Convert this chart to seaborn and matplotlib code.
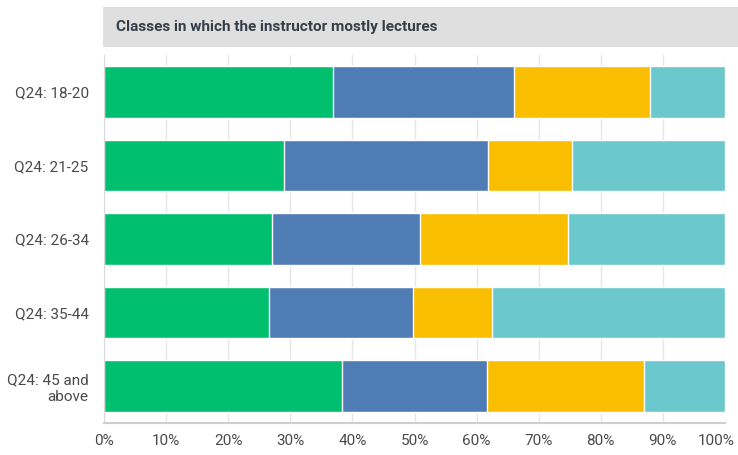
import numpy as np
import pandas as pd
import matplotlib.pyplot as plt
import matplotlib.transforms as mtransforms
import seaborn as sns
from matplotlib.patches import Rectangle

categories = ["Q24: 18-20", "Q24: 21-25", "Q24: 26-34", "Q24: 35-44", "Q24: 45 and\nabove"]
seg1 = [36.9, 29.0, 27.1, 26.5, 38.4]
seg2 = [29.1, 32.9, 23.8, 23.2, 23.2]
seg3 = [21.9, 13.5, 23.8, 12.8, 25.3]
seg4 = [12.1, 24.6, 25.3, 37.5, 13.1]
colors = ["#00bf6f", "#507cb6", "#f9be00", "#6bc8cd"]
title = "Classes in which the instructor mostly lectures"
xticks = [0, 10, 20, 30, 40, 50, 60, 70, 80, 90, 100]

sns.set_style("white")
plt.rcParams['font.family'] = ['Roboto', 'DejaVu Sans']

fig = plt.figure(figsize=(7.38, 4.55), dpi=100)
ax = fig.add_axes([104 / 738, 0.0709, (725 - 104) / 738, 0.8077])

df = pd.DataFrame({"cat": categories, "s1": seg1, "s2": seg2, "s3": seg3, "s4": seg4})
cums = np.cumsum(df[["s1", "s2", "s3", "s4"]].values, axis=1)

# draw cumulative totals back to front so they look stacked
for i in range(3, -1, -1):
    sns.barplot(x=cums[:, i], y=df["cat"], order=categories, color=colors[i],
                width=0.7, saturation=1, ax=ax, orient="h", zorder=2)

ax.set_xlim(0, 100)
ax.set_ylim(4.5, -0.5)
ax.set_xticks(xticks)
ax.set_xticklabels([f"{t}%" for t in xticks])
ax.set_xlabel("")
ax.set_ylabel("")
ax.xaxis.grid(True, color="#e6e6e6", linewidth=1, zorder=0)
ax.set_axisbelow(True)
ax.tick_params(axis="both", length=0, labelsize=11, colors="#4a4a4a")
ax.tick_params(axis="x", pad=8)
ax.tick_params(axis="y", pad=11)
for lbl in ax.get_yticklabels():
    lbl.set_horizontalalignment("right")
# pull the last x label in so it stays inside the figure
last = ax.get_xticklabels()[-1]
last.set_horizontalalignment("right")
last.set_transform(last.get_transform() + mtransforms.ScaledTranslation(10 / 100, 0, fig.dpi_scale_trans))
for s in ["top", "right"]:
    ax.spines[s].set_visible(False)
ax.spines["left"].set_color("#d9d9d9")
ax.spines["bottom"].set_color("#cfcfcf")
ax.spines["bottom"].set_linewidth(1.5)

# title box
fig.add_artist(Rectangle((103 / 738, 1 - 47 / 455), (738 - 103) / 738, 40 / 455,
                         transform=fig.transFigure, facecolor="#dfdfdf", edgecolor="none"))
fig.text(116 / 738, 1 - 27 / 455, title, fontsize=11, fontweight="bold",
         color="#333e48", va="center", ha="left")

fig.savefig("out.png", dpi=100)
